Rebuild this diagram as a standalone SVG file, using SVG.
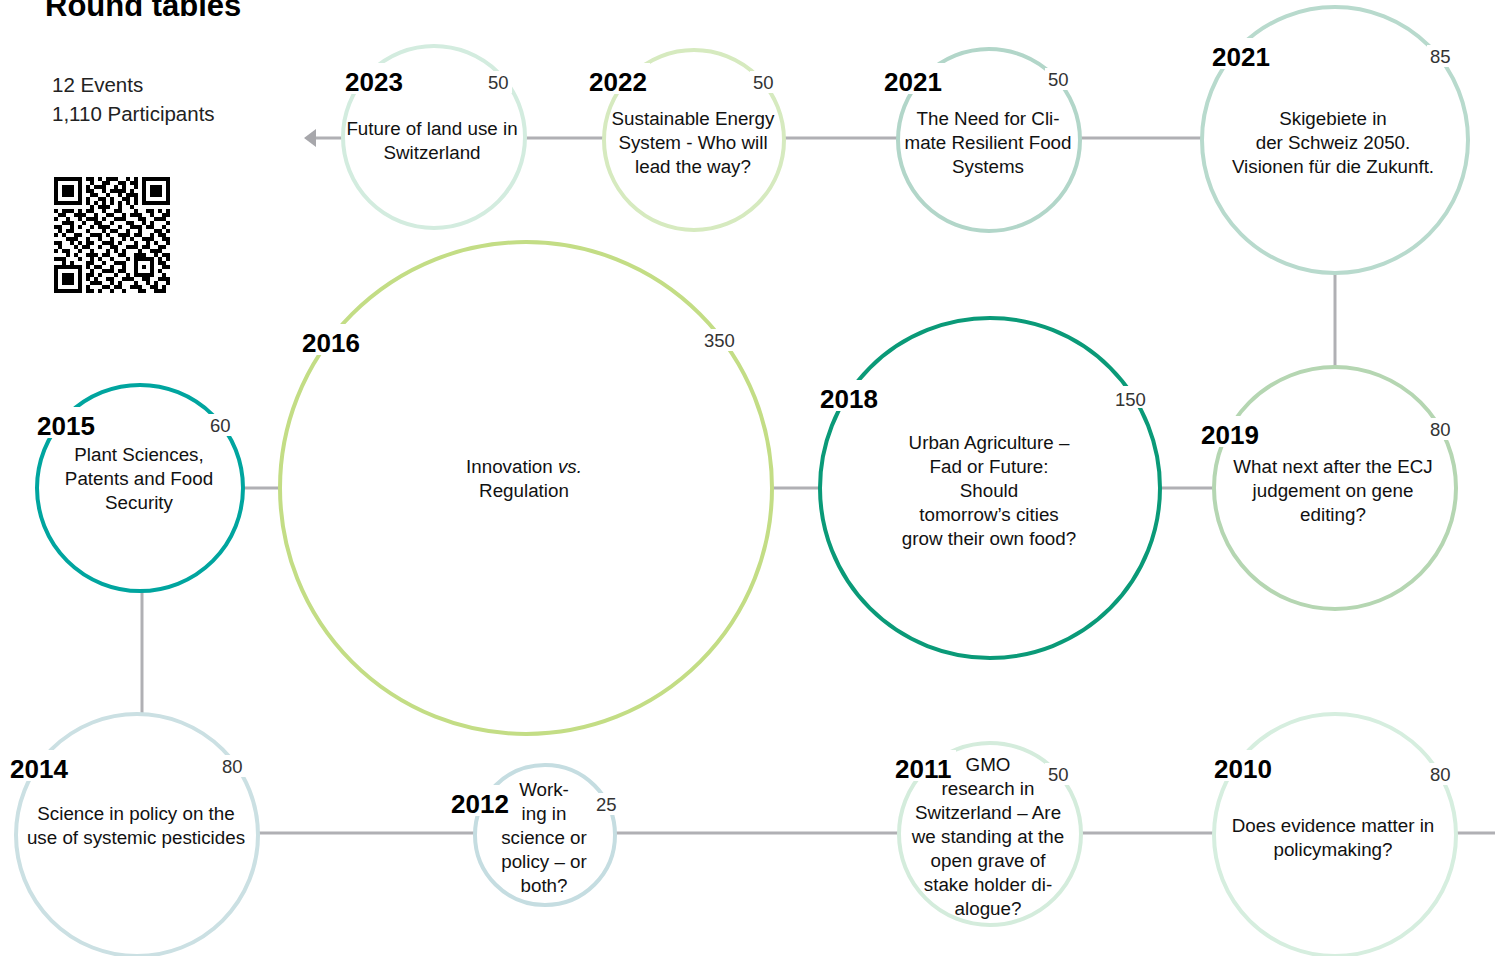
<svg xmlns="http://www.w3.org/2000/svg" width="1495" height="956" viewBox="0 0 1495 956">
<style>
  .ring { fill: #ffffff; stroke-width: 4; }
  .gap { fill: #ffffff; }
  .year { font-family: "Liberation Sans", Arial, sans-serif; font-weight: bold; font-size: 26px; fill: #000000; }
  .num { font-family: "Liberation Sans", Arial, sans-serif; font-size: 18.5px; fill: #333333; }
  .body { font-family: "Liberation Sans", Arial, sans-serif; font-size: 18.8px; fill: #111111; text-anchor: middle; }
  .stat { font-family: "Liberation Sans", Arial, sans-serif; font-size: 20.5px; fill: #222222; }
  .conn { stroke: #b0b0b4; stroke-width: 3; fill: none; }
</style>
<defs>
  <marker id="arrow" viewBox="0 0 12 18" refX="1" refY="9" markerWidth="12" markerHeight="18" markerUnits="userSpaceOnUse" orient="auto-start-reverse">
    <path d="M0 0L12 9L0 18z" fill="#a7a7ab"/>
  </marker>
</defs>
<rect width="1495" height="956" fill="#ffffff"/>

<text x="45" y="16" font-family="Liberation Sans, Arial, sans-serif" font-weight="bold" font-size="31" fill="#000">Round tables</text>
<text class="stat" x="52" y="92">12 Events</text>
<text class="stat" x="52" y="121">1,110 Participants</text>

<g id="qr" transform="translate(54,177) scale(4)" fill="#000">
  <path fill-rule="evenodd" d="M0 0h7v7h-7zM1 1v5h5v-5zM2 2h3v3h-3z M22 0h7v7h-7zM23 1v5h5v-5zM24 2h3v3h-3z M0 22h7v7h-7zM1 23v5h5v-5zM2 24h3v3h-3z M20 20h5v5h-5zM21 21v3h3v-3zM22 22h1v1h-1z"/>
  <path d="M8 0h2v1h-2zM11 0h1v1h-1zM13 0h3v1h-3zM18 0h1v1h-1zM20 0h1v1h-1z
  M9 1h1v1h-1zM12 1h2v1h-2zM16 1h2v1h-2zM19 1h2v1h-2z
  M8 2h1v1h-1zM10 2h3v1h-3zM15 2h1v1h-1zM17 2h1v1h-1zM20 2h1v1h-1z
  M8 3h2v1h-2zM12 3h1v1h-1zM14 3h4v1h-4zM19 3h1v1h-1z
  M9 4h2v1h-2zM13 4h1v1h-1zM16 4h1v1h-1zM18 4h3v1h-3z
  M8 5h1v1h-1zM11 5h2v1h-2zM14 5h1v1h-1zM17 5h2v1h-2zM20 5h1v1h-1z
  M8 6h1v1h-1zM10 6h1v1h-1zM12 6h1v1h-1zM14 6h1v1h-1zM16 6h1v1h-1zM18 6h1v1h-1zM20 6h1v1h-1z
  M9 7h1v1h-1zM11 7h3v1h-3zM16 7h1v1h-1zM19 7h1v1h-1z
  M0 8h1v1h-1zM2 8h3v1h-3zM6 8h1v1h-1zM8 8h2v1h-2zM12 8h1v1h-1zM15 8h2v1h-2zM20 8h1v1h-1zM23 8h2v1h-2zM26 8h1v1h-1zM28 8h1v1h-1z
  M1 9h2v1h-2zM5 9h3v1h-3zM10 9h1v1h-1zM13 9h2v1h-2zM17 9h1v1h-1zM19 9h3v1h-3zM24 9h1v1h-1zM27 9h2v1h-2z
  M0 10h1v1h-1zM3 10h1v1h-1zM6 10h1v1h-1zM8 10h3v1h-3zM12 10h1v1h-1zM15 10h3v1h-3zM21 10h2v1h-2zM25 10h3v1h-3z
  M2 11h3v1h-3zM7 11h1v1h-1zM10 11h2v1h-2zM14 11h1v1h-1zM18 11h2v1h-2zM22 11h1v1h-1zM24 11h1v1h-1zM28 11h1v1h-1z
  M0 12h2v1h-2zM4 12h1v1h-1zM6 12h1v1h-1zM9 12h1v1h-1zM11 12h3v1h-3zM16 12h1v1h-1zM19 12h3v1h-3zM23 12h2v1h-2zM27 12h1v1h-1z
  M1 13h1v1h-1zM3 13h2v1h-2zM8 13h1v1h-1zM12 13h1v1h-1zM14 13h2v1h-2zM18 13h1v1h-1zM21 13h1v1h-1zM25 13h2v1h-2zM28 13h1v1h-1z
  M0 14h1v1h-1zM2 14h1v1h-1zM5 14h2v1h-2zM9 14h3v1h-3zM13 14h1v1h-1zM16 14h3v1h-3zM20 14h2v1h-2zM24 14h1v1h-1zM26 14h2v1h-2z
  M3 15h3v1h-3zM8 15h1v1h-1zM11 15h1v1h-1zM14 15h1v1h-1zM17 15h1v1h-1zM19 15h1v1h-1zM22 15h3v1h-3zM27 15h2v1h-2z
  M0 16h2v1h-2zM4 16h1v1h-1zM6 16h1v1h-1zM8 16h2v1h-2zM12 16h3v1h-3zM16 16h1v1h-1zM20 16h1v1h-1zM23 16h1v1h-1zM25 16h1v1h-1zM28 16h1v1h-1z
  M1 17h1v1h-1zM5 17h1v1h-1zM7 17h2v1h-2zM11 17h1v1h-1zM14 17h2v1h-2zM18 17h3v1h-3zM22 17h2v1h-2zM26 17h2v1h-2z
  M0 18h1v1h-1zM2 18h2v1h-2zM6 18h1v1h-1zM9 18h1v1h-1zM13 18h1v1h-1zM15 18h1v1h-1zM17 18h1v1h-1zM21 18h1v1h-1zM24 18h3v1h-3z
  M3 19h1v1h-1zM5 19h1v1h-1zM8 19h3v1h-3zM12 19h2v1h-2zM16 19h2v1h-2zM20 19h3v1h-3zM25 19h1v1h-1zM27 19h2v1h-2z
  M0 20h3v1h-3zM6 20h1v1h-1zM9 20h1v1h-1zM11 20h1v1h-1zM14 20h1v1h-1zM18 20h1v1h-1zM26 20h1v1h-1zM28 20h1v1h-1z
  M2 21h1v1h-1zM4 21h1v1h-1zM8 21h2v1h-2zM12 21h1v1h-1zM15 21h3v1h-3zM26 21h2v1h-2z
  M8 22h1v1h-1zM10 22h2v1h-2zM14 22h1v1h-1zM17 22h1v1h-1zM27 22h2v1h-2z
  M9 23h1v1h-1zM12 23h3v1h-3zM16 23h2v1h-2zM26 23h1v1h-1z
  M8 24h2v1h-2zM11 24h1v1h-1zM15 24h1v1h-1zM18 24h1v1h-1zM27 24h1v1h-1z
  M8 25h1v1h-1zM10 25h1v1h-1zM13 25h2v1h-2zM17 25h3v1h-3zM22 25h2v1h-2zM26 25h3v1h-3z
  M9 26h3v1h-3zM14 26h1v1h-1zM16 26h1v1h-1zM20 26h1v1h-1zM23 26h1v1h-1zM25 26h1v1h-1zM28 26h1v1h-1z
  M8 27h1v1h-1zM12 27h2v1h-2zM15 27h2v1h-2zM19 27h3v1h-3zM24 27h2v1h-2zM27 27h1v1h-1z
  M8 28h2v1h-2zM11 28h1v1h-1zM14 28h1v1h-1zM17 28h1v1h-1zM21 28h2v1h-2zM25 28h3v1h-3z"/>
</g>

<g id="connectors">
  <line class="conn" x1="1202" y1="138" x2="315" y2="138" marker-end="url(#arrow)"/>
  <line class="conn" x1="1335" y1="272" x2="1335" y2="367"/>
  <line class="conn" x1="243" y1="488" x2="281" y2="488"/>
  <line class="conn" x1="772" y1="488" x2="820" y2="488"/>
  <line class="conn" x1="1161" y1="488" x2="1214" y2="488"/>
  <line class="conn" x1="142" y1="590" x2="142" y2="714"/>
  <line class="conn" x1="258" y1="833" x2="1495" y2="833"/>
</g>

<g id="n2023">
  <circle class="ring" cx="434" cy="137" r="91" stroke="#d3ecdf"/>
  <rect class="gap" x="343" y="63" width="63" height="31"/>
  <rect class="gap" x="485" y="71" width="27" height="22"/>
  <text class="year" x="345" y="91">2023</text>
  <text class="num" x="488" y="89">50</text>
  <text class="body" x="432" y="135">Future of land use in</text>
  <text class="body" x="432" y="159">Switzerland</text>
</g>

<g id="n2022">
  <circle class="ring" cx="694" cy="140" r="90" stroke="#d6eabf"/>
  <rect class="gap" x="587" y="63" width="63" height="31"/>
  <rect class="gap" x="750" y="71" width="27" height="22"/>
  <text class="year" x="589" y="91">2022</text>
  <text class="num" x="753" y="89">50</text>
  <text class="body" x="693" y="125">Sustainable Energy</text>
  <text class="body" x="693" y="149">System - Who will</text>
  <text class="body" x="693" y="173">lead the way?</text>
</g>

<g id="n2021a">
  <circle class="ring" cx="989" cy="140" r="91" stroke="#b2d6c9"/>
  <rect class="gap" x="882" y="63" width="63" height="31"/>
  <rect class="gap" x="1045" y="68" width="27" height="22"/>
  <text class="year" x="884" y="91">2021</text>
  <text class="num" x="1048" y="86">50</text>
  <text class="body" x="988" y="125">The Need for Cli-</text>
  <text class="body" x="988" y="149">mate Resilient Food</text>
  <text class="body" x="988" y="173">Systems</text>
</g>

<g id="n2021b">
  <circle class="ring" cx="1335" cy="140" r="133" stroke="#b8dacd"/>
  <rect class="gap" x="1210" y="38" width="63" height="31"/>
  <rect class="gap" x="1427" y="45" width="27" height="22"/>
  <text class="year" x="1212" y="66">2021</text>
  <text class="num" x="1430" y="63">85</text>
  <text class="body" x="1333" y="125">Skigebiete in</text>
  <text class="body" x="1333" y="149">der Schweiz 2050.</text>
  <text class="body" x="1333" y="173">Visionen für die Zukunft.</text>
</g>

<g id="n2016">
  <circle class="ring" cx="526" cy="488" r="246" stroke="#c3dd85"/>
  <rect class="gap" x="300" y="324" width="63" height="31"/>
  <rect class="gap" x="701" y="329" width="37" height="22"/>
  <text class="year" x="302" y="352">2016</text>
  <text class="num" x="704" y="347">350</text>
  <text class="body" x="524" y="473">Innovation <tspan font-style="italic">vs.</tspan></text>
  <text class="body" x="524" y="497">Regulation</text>
</g>

<g id="n2015">
  <circle class="ring" cx="140" cy="488" r="103" stroke="#00a59f"/>
  <rect class="gap" x="35" y="407" width="63" height="31"/>
  <rect class="gap" x="207" y="414" width="27" height="22"/>
  <text class="year" x="37" y="435">2015</text>
  <text class="num" x="210" y="432">60</text>
  <text class="body" x="139" y="461">Plant Sciences,</text>
  <text class="body" x="139" y="485">Patents and Food</text>
  <text class="body" x="139" y="509">Security</text>
</g>

<g id="n2018">
  <circle class="ring" cx="990" cy="488" r="170" stroke="#0a9a78"/>
  <rect class="gap" x="818" y="380" width="63" height="31"/>
  <rect class="gap" x="1112" y="386" width="37" height="22"/>
  <text class="year" x="820" y="408">2018</text>
  <text class="num" x="1115" y="406">150</text>
  <text class="body" x="989" y="449">Urban Agriculture –</text>
  <text class="body" x="989" y="473">Fad or Future:</text>
  <text class="body" x="989" y="497">Should</text>
  <text class="body" x="989" y="521">tomorrow’s cities</text>
  <text class="body" x="989" y="545">grow their own food?</text>
</g>

<g id="n2019">
  <circle class="ring" cx="1335" cy="488" r="121" stroke="#b5d6b2"/>
  <rect class="gap" x="1199" y="416" width="63" height="31"/>
  <rect class="gap" x="1427" y="418" width="27" height="22"/>
  <text class="year" x="1201" y="444">2019</text>
  <text class="num" x="1430" y="436">80</text>
  <text class="body" x="1333" y="473">What next after the ECJ</text>
  <text class="body" x="1333" y="497">judgement on gene</text>
  <text class="body" x="1333" y="521">editing?</text>
</g>

<g id="n2014">
  <circle class="ring" cx="137" cy="835" r="121" stroke="#cbe0e3"/>
  <rect class="gap" x="8" y="750" width="63" height="31"/>
  <rect class="gap" x="219" y="755" width="27" height="22"/>
  <text class="year" x="10" y="778">2014</text>
  <text class="num" x="222" y="773">80</text>
  <text class="body" x="136" y="820">Science in policy on the</text>
  <text class="body" x="136" y="844">use of systemic pesticides</text>
</g>

<g id="n2012">
  <circle class="ring" cx="545" cy="835" r="70" stroke="#c5dde1"/>
  <rect class="gap" x="449" y="785" width="63" height="31"/>
  <rect class="gap" x="593" y="793" width="27" height="22"/>
  <text class="year" x="451" y="813">2012</text>
  <text class="num" x="596" y="811">25</text>
  <text class="body" x="544" y="796">Work-</text>
  <text class="body" x="544" y="820">ing in</text>
  <text class="body" x="544" y="844">science or</text>
  <text class="body" x="544" y="868">policy – or</text>
  <text class="body" x="544" y="892">both?</text>
</g>

<g id="n2011">
  <circle class="ring" cx="990" cy="834" r="91" stroke="#d4ecdc"/>
  <rect class="gap" x="893" y="750" width="63" height="31"/>
  <rect class="gap" x="1045" y="763" width="27" height="22"/>
  <text class="year" x="895" y="778">2011</text>
  <text class="num" x="1048" y="781">50</text>
  <text class="body" x="988" y="771">GMO</text>
  <text class="body" x="988" y="795">research in</text>
  <text class="body" x="988" y="819">Switzerland – Are</text>
  <text class="body" x="988" y="843">we standing at the</text>
  <text class="body" x="988" y="867">open grave of</text>
  <text class="body" x="988" y="891">stake holder di-</text>
  <text class="body" x="988" y="915">alogue?</text>
</g>

<g id="n2010">
  <circle class="ring" cx="1335" cy="835" r="121" stroke="#d6eedf"/>
  <rect class="gap" x="1212" y="750" width="63" height="31"/>
  <rect class="gap" x="1427" y="763" width="27" height="22"/>
  <text class="year" x="1214" y="778">2010</text>
  <text class="num" x="1430" y="781">80</text>
  <text class="body" x="1333" y="832">Does evidence matter in</text>
  <text class="body" x="1333" y="856">policymaking?</text>
</g>
</svg>
